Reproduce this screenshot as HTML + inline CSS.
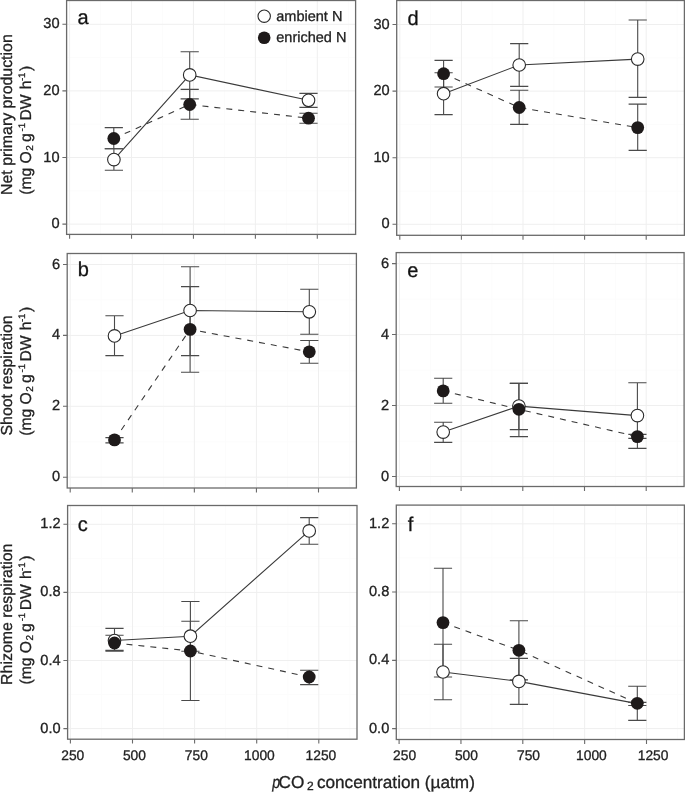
<!DOCTYPE html><html><head><meta charset="utf-8"><style>html,body{margin:0;padding:0;background:#fff;}svg{display:block;will-change:transform}text{font-family:"Liberation Sans", sans-serif;text-rendering:geometricPrecision;stroke:#222;stroke-width:0.3px}</style></head><body>
<svg width="685" height="792" viewBox="0 0 685 792">
<g>
<rect width="685" height="792" fill="#fff"/>
<path d="M100.56 0.50V234.40M162.49 0.50V234.40M224.41 0.50V234.40M286.34 0.50V234.40M348.26 0.50V234.40M66.60 190.80H355.60M66.60 124.20H355.60M66.60 57.60H355.60" stroke="#fcfcfc" stroke-width="1" fill="none"/>
<path d="M69.60 0.50V234.40M131.53 0.50V234.40M193.45 0.50V234.40M255.38 0.50V234.40M317.30 0.50V234.40M66.60 224.10H355.60M66.60 157.50H355.60M66.60 90.90H355.60M66.60 24.30H355.60" stroke="#efefef" stroke-width="1" fill="none"/>
<path d="M69.60 234.40V238.80M131.53 234.40V238.80M193.45 234.40V238.80M255.38 234.40V238.80M317.30 234.40V238.80M62.40 224.10H66.60M62.40 157.50H66.60M62.40 90.90H66.60M62.40 24.30H66.60" stroke="#6a6a6a" stroke-width="1.1" fill="none"/>
<rect x="66.60" y="0.50" width="289.00" height="233.90" stroke="#6a6a6a" stroke-width="1.3" fill="none"/>
<text x="59.60" y="228.10" font-size="14.6" text-anchor="end" fill="#222">0</text>
<text x="59.60" y="161.50" font-size="14.6" text-anchor="end" fill="#222">10</text>
<text x="59.60" y="94.90" font-size="14.6" text-anchor="end" fill="#222">20</text>
<text x="59.60" y="28.30" font-size="14.6" text-anchor="end" fill="#222">30</text>
<polyline points="113.90,159.60 189.70,74.90 308.50,100.30" stroke="#3a3a3a" stroke-width="1.1" fill="none"/>
<polyline points="113.80,138.50 189.70,104.50 308.50,118.20" stroke="#3a3a3a" stroke-width="1.1" fill="none" stroke-dasharray="6,6"/>
<path d="M113.90 148.80V170.30M104.80 148.80H123.00M104.80 170.30H123.00" stroke="#4a4a4a" stroke-width="1.1" fill="none"/>
<path d="M189.70 51.80V98.90M180.60 51.80H198.80M180.60 98.90H198.80" stroke="#4a4a4a" stroke-width="1.1" fill="none"/>
<path d="M308.50 93.40V107.40M299.40 93.40H317.60M299.40 107.40H317.60" stroke="#4a4a4a" stroke-width="1.1" fill="none"/>
<path d="M113.80 127.60V148.80M104.70 127.60H122.90M104.70 148.80H122.90" stroke="#4a4a4a" stroke-width="1.1" fill="none"/>
<path d="M189.70 89.40V119.30M180.60 89.40H198.80M180.60 119.30H198.80" stroke="#4a4a4a" stroke-width="1.1" fill="none"/>
<path d="M308.50 113.20V123.20M299.40 113.20H317.60M299.40 123.20H317.60" stroke="#4a4a4a" stroke-width="1.1" fill="none"/>
<circle cx="113.90" cy="159.60" r="6.30" fill="#fff" stroke="#2a2a2a" stroke-width="1.1"/>
<circle cx="189.70" cy="74.90" r="6.30" fill="#fff" stroke="#2a2a2a" stroke-width="1.1"/>
<circle cx="308.50" cy="100.30" r="6.30" fill="#fff" stroke="#2a2a2a" stroke-width="1.1"/>
<circle cx="113.80" cy="138.50" r="6.4" fill="#1e1a1a"/>
<circle cx="189.70" cy="104.50" r="6.4" fill="#1e1a1a"/>
<circle cx="308.50" cy="118.20" r="6.4" fill="#1e1a1a"/>
<text x="77.50" y="24.30" font-size="20" fill="#111">a</text>
<path d="M101.24 253.50V488.00M163.31 253.50V488.00M225.39 253.50V488.00M287.46 253.50V488.00M349.54 253.50V488.00M67.20 441.75H356.40M67.20 370.85H356.40M67.20 299.95H356.40" stroke="#fcfcfc" stroke-width="1" fill="none"/>
<path d="M70.20 253.50V488.00M132.28 253.50V488.00M194.35 253.50V488.00M256.43 253.50V488.00M318.50 253.50V488.00M67.20 477.20H356.40M67.20 406.30H356.40M67.20 335.40H356.40M67.20 264.50H356.40" stroke="#efefef" stroke-width="1" fill="none"/>
<path d="M70.20 488.00V492.40M132.28 488.00V492.40M194.35 488.00V492.40M256.43 488.00V492.40M318.50 488.00V492.40M63.00 477.20H67.20M63.00 406.30H67.20M63.00 335.40H67.20M63.00 264.50H67.20" stroke="#6a6a6a" stroke-width="1.1" fill="none"/>
<rect x="67.20" y="253.50" width="289.20" height="234.50" stroke="#6a6a6a" stroke-width="1.3" fill="none"/>
<text x="60.20" y="481.20" font-size="14.6" text-anchor="end" fill="#222">0</text>
<text x="60.20" y="410.30" font-size="14.6" text-anchor="end" fill="#222">2</text>
<text x="60.20" y="339.40" font-size="14.6" text-anchor="end" fill="#222">4</text>
<text x="60.20" y="268.50" font-size="14.6" text-anchor="end" fill="#222">6</text>
<polyline points="114.50,335.90 190.10,310.50 309.30,311.80" stroke="#3a3a3a" stroke-width="1.1" fill="none"/>
<polyline points="114.50,439.90 190.10,329.40 309.30,351.80" stroke="#3a3a3a" stroke-width="1.1" fill="none" stroke-dasharray="6,6"/>
<path d="M114.50 315.80V355.60M105.40 315.80H123.60M105.40 355.60H123.60" stroke="#4a4a4a" stroke-width="1.1" fill="none"/>
<path d="M190.10 266.80V355.60M181.00 266.80H199.20M181.00 355.60H199.20" stroke="#4a4a4a" stroke-width="1.1" fill="none"/>
<path d="M309.30 289.20V334.30M300.20 289.20H318.40M300.20 334.30H318.40" stroke="#4a4a4a" stroke-width="1.1" fill="none"/>
<path d="M114.50 437.60V442.90M105.40 437.60H123.60M105.40 442.90H123.60" stroke="#4a4a4a" stroke-width="1.1" fill="none"/>
<path d="M190.10 286.60V372.30M181.00 286.60H199.20M181.00 372.30H199.20" stroke="#4a4a4a" stroke-width="1.1" fill="none"/>
<path d="M309.30 340.50V363.20M300.20 340.50H318.40M300.20 363.20H318.40" stroke="#4a4a4a" stroke-width="1.1" fill="none"/>
<circle cx="114.50" cy="335.90" r="6.30" fill="#fff" stroke="#2a2a2a" stroke-width="1.1"/>
<circle cx="190.10" cy="310.50" r="6.30" fill="#fff" stroke="#2a2a2a" stroke-width="1.1"/>
<circle cx="309.30" cy="311.80" r="6.30" fill="#fff" stroke="#2a2a2a" stroke-width="1.1"/>
<circle cx="114.50" cy="439.90" r="6.4" fill="#1e1a1a"/>
<circle cx="190.10" cy="329.40" r="6.4" fill="#1e1a1a"/>
<circle cx="309.30" cy="351.80" r="6.4" fill="#1e1a1a"/>
<text x="77.80" y="276.30" font-size="20" fill="#111">b</text>
<path d="M101.45 505.50V739.20M163.55 505.50V739.20M225.65 505.50V739.20M287.75 505.50V739.20M349.85 505.50V739.20M67.60 694.55H357.00M67.60 626.45H357.00M67.60 558.35H357.00" stroke="#fcfcfc" stroke-width="1" fill="none"/>
<path d="M70.40 505.50V739.20M132.50 505.50V739.20M194.60 505.50V739.20M256.70 505.50V739.20M318.80 505.50V739.20M67.60 728.60H357.00M67.60 660.50H357.00M67.60 592.40H357.00M67.60 524.30H357.00" stroke="#efefef" stroke-width="1" fill="none"/>
<path d="M70.40 739.20V743.60M132.50 739.20V743.60M194.60 739.20V743.60M256.70 739.20V743.60M318.80 739.20V743.60M63.40 728.60H67.60M63.40 660.50H67.60M63.40 592.40H67.60M63.40 524.30H67.60" stroke="#6a6a6a" stroke-width="1.1" fill="none"/>
<rect x="67.60" y="505.50" width="289.40" height="233.70" stroke="#6a6a6a" stroke-width="1.3" fill="none"/>
<text x="60.60" y="732.60" font-size="14.6" text-anchor="end" fill="#222">0.0</text>
<text x="60.60" y="664.50" font-size="14.6" text-anchor="end" fill="#222">0.4</text>
<text x="60.60" y="596.40" font-size="14.6" text-anchor="end" fill="#222">0.8</text>
<text x="60.60" y="528.30" font-size="14.6" text-anchor="end" fill="#222">1.2</text>
<polyline points="114.50,640.50 190.40,636.20 309.20,530.90" stroke="#3a3a3a" stroke-width="1.1" fill="none"/>
<polyline points="114.50,643.00 190.40,651.00 309.20,677.00" stroke="#3a3a3a" stroke-width="1.1" fill="none" stroke-dasharray="6,6"/>
<path d="M114.50 628.40V651.20M105.40 628.40H123.60M105.40 651.20H123.60" stroke="#4a4a4a" stroke-width="1.1" fill="none"/>
<path d="M190.40 621.20V651.20M181.30 621.20H199.50M181.30 651.20H199.50" stroke="#4a4a4a" stroke-width="1.1" fill="none"/>
<path d="M309.20 517.60V544.20M300.10 517.60H318.30M300.10 544.20H318.30" stroke="#4a4a4a" stroke-width="1.1" fill="none"/>
<path d="M114.50 635.20V650.40M105.40 635.20H123.60M105.40 650.40H123.60" stroke="#4a4a4a" stroke-width="1.1" fill="none"/>
<path d="M190.40 601.50V700.50M181.30 601.50H199.50M181.30 700.50H199.50" stroke="#4a4a4a" stroke-width="1.1" fill="none"/>
<path d="M309.20 670.20V684.60M300.10 670.20H318.30M300.10 684.60H318.30" stroke="#4a4a4a" stroke-width="1.1" fill="none"/>
<circle cx="114.50" cy="640.50" r="6.30" fill="#fff" stroke="#2a2a2a" stroke-width="1.1"/>
<circle cx="190.40" cy="636.20" r="6.30" fill="#fff" stroke="#2a2a2a" stroke-width="1.1"/>
<circle cx="309.20" cy="530.90" r="6.30" fill="#fff" stroke="#2a2a2a" stroke-width="1.1"/>
<circle cx="114.50" cy="643.00" r="6.4" fill="#1e1a1a"/>
<circle cx="190.40" cy="651.00" r="6.4" fill="#1e1a1a"/>
<circle cx="309.20" cy="677.00" r="6.4" fill="#1e1a1a"/>
<text x="77.75" y="530.60" font-size="20" fill="#111">c</text>
<path d="M430.60 0.50V235.30M492.20 0.50V235.30M553.80 0.50V235.30M615.40 0.50V235.30M677.00 0.50V235.30M396.70 191.00H684.40M396.70 124.40H684.40M396.70 57.80H684.40" stroke="#fcfcfc" stroke-width="1" fill="none"/>
<path d="M399.80 0.50V235.30M461.40 0.50V235.30M523.00 0.50V235.30M584.60 0.50V235.30M646.20 0.50V235.30M396.70 224.30H684.40M396.70 157.70H684.40M396.70 91.10H684.40M396.70 24.50H684.40" stroke="#efefef" stroke-width="1" fill="none"/>
<path d="M399.80 235.30V239.70M461.40 235.30V239.70M523.00 235.30V239.70M584.60 235.30V239.70M646.20 235.30V239.70M392.50 224.30H396.70M392.50 157.70H396.70M392.50 91.10H396.70M392.50 24.50H396.70" stroke="#6a6a6a" stroke-width="1.1" fill="none"/>
<rect x="396.70" y="0.50" width="287.70" height="234.80" stroke="#6a6a6a" stroke-width="1.3" fill="none"/>
<text x="389.70" y="228.30" font-size="14.6" text-anchor="end" fill="#222">0</text>
<text x="389.70" y="161.70" font-size="14.6" text-anchor="end" fill="#222">10</text>
<text x="389.70" y="95.10" font-size="14.6" text-anchor="end" fill="#222">20</text>
<text x="389.70" y="28.50" font-size="14.6" text-anchor="end" fill="#222">30</text>
<polyline points="443.60,93.70 519.20,65.00 637.70,59.10" stroke="#3a3a3a" stroke-width="1.1" fill="none"/>
<polyline points="443.60,73.70 519.20,107.50 637.70,127.60" stroke="#3a3a3a" stroke-width="1.1" fill="none" stroke-dasharray="6,6"/>
<path d="M443.60 72.80V114.60M434.50 72.80H452.70M434.50 114.60H452.70" stroke="#4a4a4a" stroke-width="1.1" fill="none"/>
<path d="M519.20 43.60V86.40M510.10 43.60H528.30M510.10 86.40H528.30" stroke="#4a4a4a" stroke-width="1.1" fill="none"/>
<path d="M637.70 20.00V97.40M628.60 20.00H646.80M628.60 97.40H646.80" stroke="#4a4a4a" stroke-width="1.1" fill="none"/>
<path d="M443.60 60.40V87.00M434.50 60.40H452.70M434.50 87.00H452.70" stroke="#4a4a4a" stroke-width="1.1" fill="none"/>
<path d="M519.20 90.30V124.40M510.10 90.30H528.30M510.10 124.40H528.30" stroke="#4a4a4a" stroke-width="1.1" fill="none"/>
<path d="M637.70 104.10V150.40M628.60 104.10H646.80M628.60 150.40H646.80" stroke="#4a4a4a" stroke-width="1.1" fill="none"/>
<circle cx="443.60" cy="93.70" r="6.30" fill="#fff" stroke="#2a2a2a" stroke-width="1.1"/>
<circle cx="519.20" cy="65.00" r="6.30" fill="#fff" stroke="#2a2a2a" stroke-width="1.1"/>
<circle cx="637.70" cy="59.10" r="6.30" fill="#fff" stroke="#2a2a2a" stroke-width="1.1"/>
<circle cx="443.60" cy="73.70" r="6.4" fill="#1e1a1a"/>
<circle cx="519.20" cy="107.50" r="6.4" fill="#1e1a1a"/>
<circle cx="637.70" cy="127.60" r="6.4" fill="#1e1a1a"/>
<text x="407.50" y="24.80" font-size="20" fill="#111">d</text>
<path d="M430.25 252.60V486.50M491.95 252.60V486.50M553.65 252.60V486.50M615.35 252.60V486.50M677.05 252.60V486.50M396.20 441.02H684.10M396.20 370.05H684.10M396.20 299.08H684.10" stroke="#fcfcfc" stroke-width="1" fill="none"/>
<path d="M399.40 252.60V486.50M461.10 252.60V486.50M522.80 252.60V486.50M584.50 252.60V486.50M646.20 252.60V486.50M396.20 476.50H684.10M396.20 405.53H684.10M396.20 334.57H684.10M396.20 263.60H684.10" stroke="#efefef" stroke-width="1" fill="none"/>
<path d="M399.40 486.50V490.90M461.10 486.50V490.90M522.80 486.50V490.90M584.50 486.50V490.90M646.20 486.50V490.90M392.00 476.50H396.20M392.00 405.53H396.20M392.00 334.57H396.20M392.00 263.60H396.20" stroke="#6a6a6a" stroke-width="1.1" fill="none"/>
<rect x="396.20" y="252.60" width="287.90" height="233.90" stroke="#6a6a6a" stroke-width="1.3" fill="none"/>
<text x="389.20" y="480.50" font-size="14.6" text-anchor="end" fill="#222">0</text>
<text x="389.20" y="409.53" font-size="14.6" text-anchor="end" fill="#222">2</text>
<text x="389.20" y="338.57" font-size="14.6" text-anchor="end" fill="#222">4</text>
<text x="389.20" y="267.60" font-size="14.6" text-anchor="end" fill="#222">6</text>
<polyline points="443.20,432.10 518.90,406.10 637.40,415.60" stroke="#3a3a3a" stroke-width="1.1" fill="none"/>
<polyline points="443.20,390.90 518.90,409.30 637.40,436.60" stroke="#3a3a3a" stroke-width="1.1" fill="none" stroke-dasharray="6,6"/>
<path d="M443.20 422.30V442.40M434.10 422.30H452.30M434.10 442.40H452.30" stroke="#4a4a4a" stroke-width="1.1" fill="none"/>
<path d="M518.90 383.40V429.60M509.80 383.40H528.00M509.80 429.60H528.00" stroke="#4a4a4a" stroke-width="1.1" fill="none"/>
<path d="M637.40 382.80V448.40M628.30 382.80H646.50M628.30 448.40H646.50" stroke="#4a4a4a" stroke-width="1.1" fill="none"/>
<path d="M443.20 378.30V403.30M434.10 378.30H452.30M434.10 403.30H452.30" stroke="#4a4a4a" stroke-width="1.1" fill="none"/>
<path d="M518.90 383.40V436.60M509.80 383.40H528.00M509.80 436.60H528.00" stroke="#4a4a4a" stroke-width="1.1" fill="none"/>
<path d="M637.40 434.40V438.40M628.30 434.40H646.50M628.30 438.40H646.50" stroke="#4a4a4a" stroke-width="1.1" fill="none"/>
<circle cx="443.20" cy="432.10" r="6.30" fill="#fff" stroke="#2a2a2a" stroke-width="1.1"/>
<circle cx="518.90" cy="406.10" r="6.30" fill="#fff" stroke="#2a2a2a" stroke-width="1.1"/>
<circle cx="637.40" cy="415.60" r="6.30" fill="#fff" stroke="#2a2a2a" stroke-width="1.1"/>
<circle cx="443.20" cy="390.90" r="6.4" fill="#1e1a1a"/>
<circle cx="518.90" cy="409.30" r="6.4" fill="#1e1a1a"/>
<circle cx="637.40" cy="436.60" r="6.4" fill="#1e1a1a"/>
<text x="407.35" y="276.60" font-size="20" fill="#111">e</text>
<path d="M430.03 505.10V739.50M491.88 505.10V739.50M553.73 505.10V739.50M615.58 505.10V739.50M677.42 505.10V739.50M396.30 694.47H684.40M396.30 626.20H684.40M396.30 557.93H684.40" stroke="#fcfcfc" stroke-width="1" fill="none"/>
<path d="M399.10 505.10V739.50M460.95 505.10V739.50M522.80 505.10V739.50M584.65 505.10V739.50M646.50 505.10V739.50M396.30 728.60H684.40M396.30 660.33H684.40M396.30 592.07H684.40M396.30 523.80H684.40" stroke="#efefef" stroke-width="1" fill="none"/>
<path d="M399.10 739.50V743.90M460.95 739.50V743.90M522.80 739.50V743.90M584.65 739.50V743.90M646.50 739.50V743.90M392.10 728.60H396.30M392.10 660.33H396.30M392.10 592.07H396.30M392.10 523.80H396.30" stroke="#6a6a6a" stroke-width="1.1" fill="none"/>
<rect x="396.30" y="505.10" width="288.10" height="234.40" stroke="#6a6a6a" stroke-width="1.3" fill="none"/>
<text x="389.30" y="732.60" font-size="14.6" text-anchor="end" fill="#222">0.0</text>
<text x="389.30" y="664.33" font-size="14.6" text-anchor="end" fill="#222">0.4</text>
<text x="389.30" y="596.07" font-size="14.6" text-anchor="end" fill="#222">0.8</text>
<text x="389.30" y="527.80" font-size="14.6" text-anchor="end" fill="#222">1.2</text>
<polyline points="443.00,672.00 518.90,681.40 637.30,703.60" stroke="#3a3a3a" stroke-width="1.1" fill="none"/>
<polyline points="443.00,622.60 518.90,650.30 637.30,703.30" stroke="#3a3a3a" stroke-width="1.1" fill="none" stroke-dasharray="6,6"/>
<path d="M443.00 644.20V699.70M433.90 644.20H452.10M433.90 699.70H452.10" stroke="#4a4a4a" stroke-width="1.1" fill="none"/>
<path d="M518.90 658.40V704.40M509.80 658.40H528.00M509.80 704.40H528.00" stroke="#4a4a4a" stroke-width="1.1" fill="none"/>
<path d="M637.30 702.40V705.50M628.20 702.40H646.40M628.20 705.50H646.40" stroke="#4a4a4a" stroke-width="1.1" fill="none"/>
<path d="M443.00 568.30V677.00M433.90 568.30H452.10M433.90 677.00H452.10" stroke="#4a4a4a" stroke-width="1.1" fill="none"/>
<path d="M518.90 620.70V679.90M509.80 620.70H528.00M509.80 679.90H528.00" stroke="#4a4a4a" stroke-width="1.1" fill="none"/>
<path d="M637.30 686.30V720.40M628.20 686.30H646.40M628.20 720.40H646.40" stroke="#4a4a4a" stroke-width="1.1" fill="none"/>
<circle cx="443.00" cy="672.00" r="6.30" fill="#fff" stroke="#2a2a2a" stroke-width="1.1"/>
<circle cx="518.90" cy="681.40" r="6.30" fill="#fff" stroke="#2a2a2a" stroke-width="1.1"/>
<circle cx="637.30" cy="703.60" r="5.00" fill="#fff" stroke="#2a2a2a" stroke-width="1.1"/>
<circle cx="443.00" cy="622.60" r="6.4" fill="#1e1a1a"/>
<circle cx="518.90" cy="650.30" r="6.4" fill="#1e1a1a"/>
<circle cx="637.30" cy="703.30" r="6.4" fill="#1e1a1a"/>
<text x="407.70" y="530.80" font-size="20" fill="#111">f</text>
<text x="72.75" y="759.60" font-size="13.8" text-anchor="middle" fill="#222">250</text>
<text x="134.40" y="759.60" font-size="13.8" text-anchor="middle" fill="#222">500</text>
<text x="196.30" y="759.60" font-size="13.8" text-anchor="middle" fill="#222">750</text>
<text x="259.40" y="759.60" font-size="13.8" text-anchor="middle" fill="#222">1000</text>
<text x="320.90" y="759.60" font-size="13.8" text-anchor="middle" fill="#222">1250</text>
<text x="404.60" y="759.60" font-size="13.8" text-anchor="middle" fill="#222">250</text>
<text x="466.40" y="759.60" font-size="13.8" text-anchor="middle" fill="#222">500</text>
<text x="528.50" y="759.60" font-size="13.8" text-anchor="middle" fill="#222">750</text>
<text x="591.40" y="759.60" font-size="13.8" text-anchor="middle" fill="#222">1000</text>
<text x="653.10" y="759.60" font-size="13.8" text-anchor="middle" fill="#222">1250</text>
<circle cx="264.2" cy="16.2" r="6.2" fill="#fff" stroke="#2a2a2a" stroke-width="1.1"/>
<circle cx="264.2" cy="37.8" r="6.3" fill="#1e1a1a"/>
<text x="276.3" y="21.2" font-size="14.5" fill="#222">ambient N</text>
<text x="276.3" y="41.8" font-size="14.5" fill="#222">enriched N</text>
<text transform="translate(272.35 788.2) scale(0.82 1)" font-size="17.2" font-style="italic" fill="#222">p</text>
<text x="278.6" y="788.2" font-size="17.2" fill="#222">CO</text>
<text x="306.9" y="790.1" font-size="12" fill="#222">2</text>
<text x="316.9" y="788.2" font-size="17.2" fill="#222">concentration (µatm)</text>
<text transform="translate(11.8 195.00) rotate(-90)" x="0" y="0" font-size="15.9" fill="#222">Net primary production</text>
<g transform="translate(11.8 195.30) rotate(-90)" fill="#222">
<text x="0.53" y="19.1" font-size="15.7">(mg O</text>
<text x="44.6" y="20.9" font-size="10">2</text>
<text x="53.2" y="19.1" font-size="15.7">g</text>
<text x="63.8" y="12.9" font-size="9.5">-1</text>
<text x="74.8" y="19.1" font-size="15.7">DW</text>
<text x="106.0" y="19.1" font-size="15.7">h</text>
<text x="114.2" y="12.9" font-size="9.5">-1</text>
<text x="124.4" y="19.1" font-size="15.7">)</text>
</g>
<text transform="translate(11.8 435.50) rotate(-90)" x="0" y="0" font-size="15.9" fill="#222">Shoot respiration</text>
<g transform="translate(11.8 436.30) rotate(-90)" fill="#222">
<text x="0.53" y="19.1" font-size="15.7">(mg O</text>
<text x="44.6" y="20.9" font-size="10">2</text>
<text x="53.2" y="19.1" font-size="15.7">g</text>
<text x="63.8" y="12.9" font-size="9.5">-1</text>
<text x="74.8" y="19.1" font-size="15.7">DW</text>
<text x="106.0" y="19.1" font-size="15.7">h</text>
<text x="114.2" y="12.9" font-size="9.5">-1</text>
<text x="124.4" y="19.1" font-size="15.7">)</text>
</g>
<text transform="translate(11.8 684.90) rotate(-90)" x="0" y="0" font-size="15.9" fill="#222">Rhizome respiration</text>
<g transform="translate(11.8 685.10) rotate(-90)" fill="#222">
<text x="0.53" y="19.1" font-size="15.7">(mg O</text>
<text x="44.6" y="20.9" font-size="10">2</text>
<text x="53.2" y="19.1" font-size="15.7">g</text>
<text x="63.8" y="12.9" font-size="9.5">-1</text>
<text x="74.8" y="19.1" font-size="15.7">DW</text>
<text x="106.0" y="19.1" font-size="15.7">h</text>
<text x="114.2" y="12.9" font-size="9.5">-1</text>
<text x="124.4" y="19.1" font-size="15.7">)</text>
</g>
</g>
</svg></body></html>
